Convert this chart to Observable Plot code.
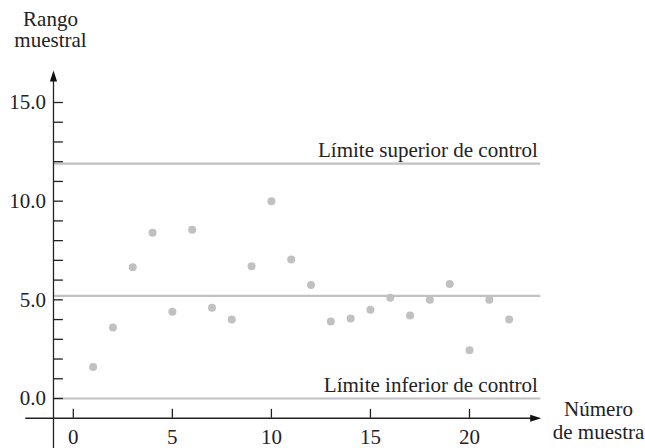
<!DOCTYPE html>
<html>
<head>
<meta charset="utf-8">
<script src="https://cdn.jsdelivr.net/npm/d3@7"></script>
<script src="https://cdn.jsdelivr.net/npm/@observablehq/plot@0.6"></script>
<style>
  html, body { margin: 0; padding: 0; background: #ffffff; }
  #chart svg { display: block; }
</style>
</head>
<body>
<div id="chart"></div>
<script>
// ---- data ----
const sampleNumbers = d3.range(1, 23);
const sampleRanges = [1.6, 3.6, 6.65, 8.4, 4.4, 8.55, 4.6, 4.0, 6.7, 10.0, 7.05, 5.75,
                      3.9, 4.05, 4.5, 5.1, 4.2, 5.0, 5.8, 2.45, 5.0, 4.0];
const controlLimits = [
  {name: "UCL", value: 11.9, label: "Límite superior de control"},
  {name: "CL", value: 5.2, label: ""},
  {name: "LCL", value: 0.0, label: "Límite inferior de control"}
];
const yMajorTicks = [0, 5, 10, 15];
const yMinorTicks = d3.range(0, 16);
const xTicks = [0, 5, 10, 15, 20];
const yTitle = "Rango\nmuestral";
const xTitle = "Número\nde muestra";

const points = sampleNumbers.map((n, i) => ({n, r: sampleRanges[i]}));
const labelled = controlLimits.filter(d => d.label);

// filled arrowheads (tip at origin)
const arrowRight = {draw(ctx) { ctx.moveTo(0, 0); ctx.lineTo(-11, -3.6); ctx.lineTo(-11, 3.6); ctx.closePath(); }};
const arrowUp = {draw(ctx) { ctx.moveTo(0, 0); ctx.lineTo(-3.6, 11); ctx.lineTo(3.6, 11); ctx.closePath(); }};

const gray = "#c1c1c3";
const ink = "#222222";
const axisMin = -1;
const font = {fontFamily: "Liberation Serif", fontSize: 21, fill: ink};

const chart = Plot.plot({
  width: 645,
  height: 448,
  margin: 0,
  x: {domain: [0, 20], range: [72.8, 469], axis: null},
  y: {domain: [0, 15], range: [398, 102], axis: null},
  style: {background: "#ffffff"},
  marks: [
    // control lines
    Plot.ruleY(controlLimits, {y: "value", x1: axisMin, x2: 23.6, stroke: gray, strokeWidth: 2.2}),
    Plot.text(labelled, {...font, x: 23.45, y: "value", text: "label", textAnchor: "end", lineAnchor: "bottom", dy: -7}),
    // axes
    Plot.ruleY([axisMin], {x1: -2.4, x2: 23.4, stroke: ink, strokeWidth: 1.3}),
    Plot.ruleX([axisMin], {y1: -2.8, y2: 16.3, stroke: ink, strokeWidth: 1.3}),
    Plot.dot([23.62], {x: d => d, y: axisMin, symbol: arrowRight, fill: "#111", stroke: null}),
    Plot.dot([16.62], {x: axisMin, y: d => d, symbol: arrowUp, fill: "#111", stroke: null}),
    // y ticks
    Plot.ruleY(yMinorTicks, {y: d => d, x1: axisMin, x2: -0.5, stroke: ink, strokeWidth: 1.3}),
    Plot.text(yMajorTicks, {...font, x: axisMin, y: d => d, text: d => d.toFixed(1), textAnchor: "end", dx: -7.5}),
    // x ticks
    Plot.ruleX(xTicks, {x: d => d, y1: axisMin, y2: -0.55, stroke: ink, strokeWidth: 1.3}),
    Plot.text(xTicks, {...font, x: d => d, y: axisMin, text: d => String(d), lineAnchor: "bottom", dy: 26}),
    // axis titles
    Plot.text([yTitle], {...font, frameAnchor: "top-left", dx: 50, dy: 10, text: d => d, textAnchor: "middle", lineAnchor: "top", lineHeight: 1.03}),
    Plot.text([xTitle], {...font, frameAnchor: "top-left", dx: 598, dy: 398, text: d => d, textAnchor: "middle", lineAnchor: "top", lineHeight: 1.14}),
    // sample points
    Plot.dot(points, {x: "n", y: "r", r: 4, fill: gray, stroke: null})
  ]
});
document.getElementById("chart").appendChild(chart);
</script>
</body>
</html>
